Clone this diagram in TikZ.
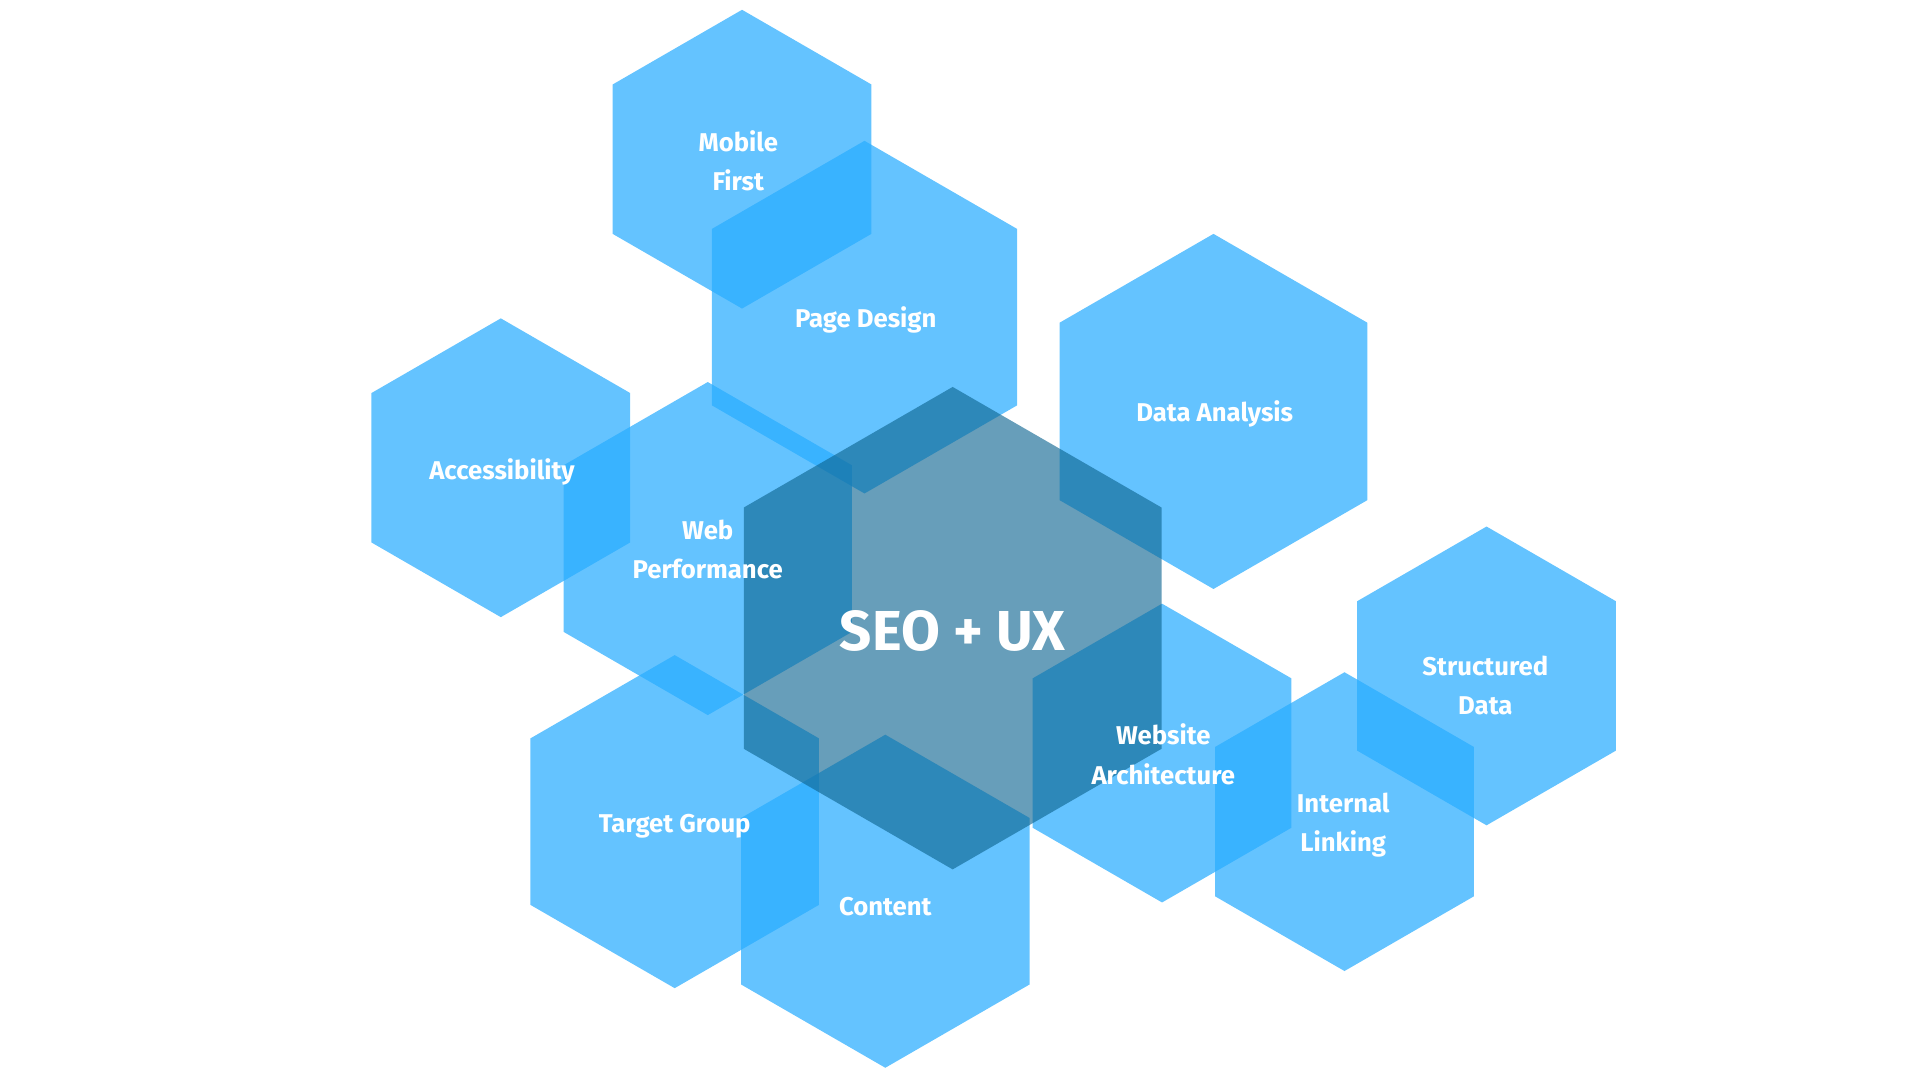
\documentclass[tikz,border=0pt]{standalone}
\usepackage{fontspec}
\setmainfont{Fira Sans}
\definecolor{hexblue}{RGB}{40,172,255}
\definecolor{hexcore}{RGB}{14,101,145}
\tikzset{
  hexlight/.style={fill=hexblue,fill opacity=0.72},
  hexdark/.style={fill=hexcore,fill opacity=0.63},
  lbl/.style={text=white,font=\fontsize{21}{32}\selectfont\bfseries,align=center}
}
\newcommand{\myhex}[4]{\fill[#4,shift={(#1,#2)}] (90:#3pt)--(150:#3pt)--(210:#3pt)--(270:#3pt)--(330:#3pt)--(30:#3pt)--cycle;}
\begin{document}
\begin{tikzpicture}[x=1pt,y=-1pt]
\useasboundingbox (0,0) rectangle (1568,882);
\myhex{606}{130}{122}{hexlight}
\myhex{706}{259}{144}{hexlight}
\myhex{991}{336}{145}{hexlight}
\myhex{409}{382}{122}{hexlight}
\myhex{578}{448}{136}{hexlight}
\myhex{551}{671}{136}{hexlight}
\myhex{723}{736}{136}{hexlight}
\myhex{949}{615}{122}{hexlight}
\myhex{1214}{552}{122}{hexlight}
\myhex{1098}{671}{122}{hexlight}
\myhex{778}{513}{197}{hexdark}
\node[lbl] (mobile) at (603,131) {Mobile\\First};
\node[lbl] (page) at (707,261) {Page Design};
\node[lbl] (data) at (992,338) {Data Analysis};
\node[lbl] (access) at (410,385) {Accessibility};
\node[lbl] (web) at (578,449) {Web\\Performance};
\node[lbl] (seo) at (778,515) {\fontsize{46}{50}\selectfont SEO + UX};
\node[lbl] (target) at (551,675) {Target Group};
\node[lbl] (content) at (723,740) {Content};
\node[lbl] (arch) at (950,616) {Website\\Architecture};
\node[lbl] (struct) at (1213,560) {Structured\\Data};
\node[lbl] (link) at (1097,674) {Internal\\Linking};
\end{tikzpicture}
\end{document}
